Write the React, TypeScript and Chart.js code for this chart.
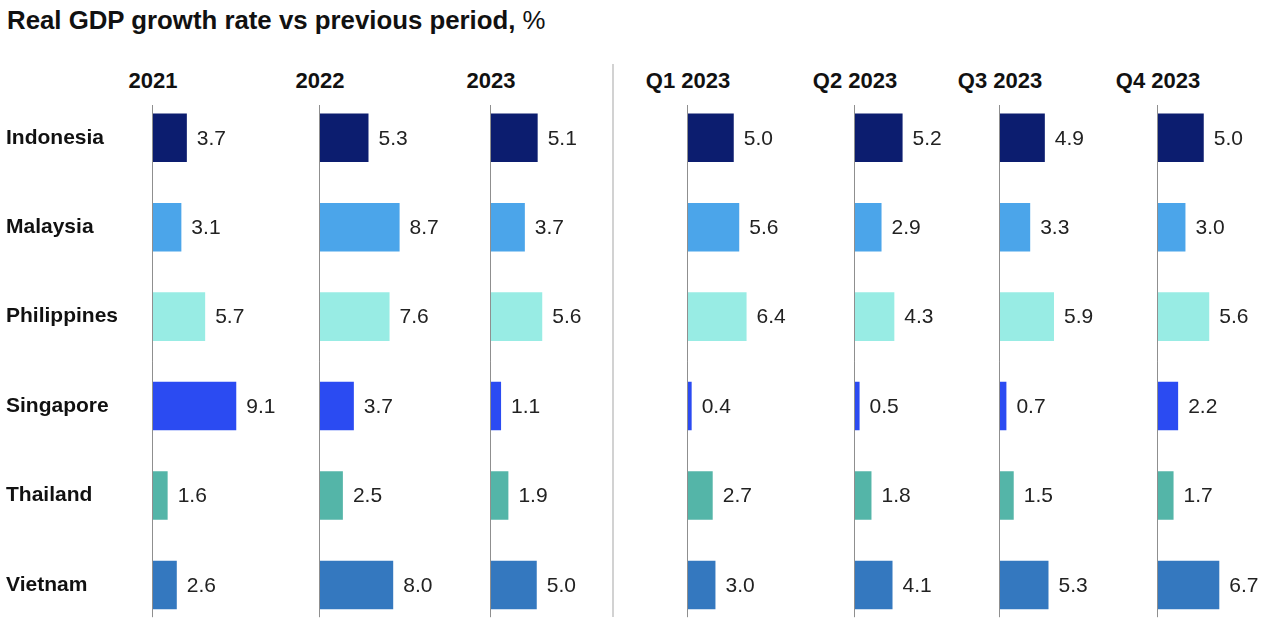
import React, { useEffect, useRef } from "react";
import { Chart, registerables } from "chart.js";

Chart.register(...registerables);

// ---------- data ----------
const countries = ["Indonesia", "Malaysia", "Philippines", "Singapore", "Thailand", "Vietnam"];
const periods = ["2021", "2022", "2023", "Q1 2023", "Q2 2023", "Q3 2023", "Q4 2023"];
const values2021 = [3.7, 3.1, 5.7, 9.1, 1.6, 2.6];
const values2022 = [5.3, 8.7, 7.6, 3.7, 2.5, 8.0];
const values2023 = [5.1, 3.7, 5.6, 1.1, 1.9, 5.0];
const valuesQ1 = [5.0, 5.6, 6.4, 0.4, 2.7, 3.0];
const valuesQ2 = [5.2, 2.9, 4.3, 0.5, 1.8, 4.1];
const valuesQ3 = [4.9, 3.3, 5.9, 0.7, 1.5, 5.3];
const valuesQ4 = [5.0, 3.0, 5.6, 2.2, 1.7, 6.7];
const periodValues = [values2021, values2022, values2023, valuesQ1, valuesQ2, valuesQ3, valuesQ4];
const countryColors = ["#0c1d6f", "#4ba5ea", "#98ece4", "#2b4bf2", "#54b5a8", "#3478bf"];
const titleText = "Real GDP growth rate vs previous period,";
const titleUnit = "%";

// ---------- layout / style ----------
const FONT = '"Liberation Sans", Arial, Helvetica, sans-serif';
const W = 1280;
const H = 638;
const CANVAS_H = 660;
const PX_PER_UNIT = 9.15;
const AREA_W = 120;
const X_MAX = AREA_W / PX_PER_UNIT;
const AXIS_X = [153, 320, 491, 688, 855, 1000, 1158];
const PAD_TOP = 93;
const PAD_BOTTOM = CANVAS_H - 629.7;

const axisLinePlugin = {
  id: "axisLine",
  afterDatasetsDraw(chart: any) {
    const { ctx, chartArea } = chart;
    ctx.save();
    ctx.strokeStyle = "#8f8f8f";
    ctx.lineWidth = 1;
    ctx.beginPath();
    ctx.moveTo(chartArea.left - 0.5, chartArea.top + 12);
    ctx.lineTo(chartArea.left - 0.5, chartArea.bottom - 12.5);
    ctx.stroke();
    ctx.restore();
  },
};

const valueLabelPlugin = {
  id: "valueLabels",
  afterDatasetsDraw(chart: any) {
    const { ctx } = chart;
    const meta = chart.getDatasetMeta(0);
    const data = chart.data.datasets[0].data as number[];
    ctx.save();
    ctx.font = `21px ${FONT}`;
    ctx.fillStyle = "#222222";
    ctx.textAlign = "left";
    ctx.textBaseline = "middle";
    meta.data.forEach((bar: any, i: number) => {
      ctx.fillText(data[i].toFixed(1), bar.x + 10, bar.y + 1);
    });
    ctx.restore();
  },
};

function Panel({ index }: { index: number }) {
  const ref = useRef<HTMLCanvasElement | null>(null);
  const first = index === 0;
  const axisX = AXIS_X[index];
  const left = first ? 0 : axisX - 1;
  const nextX = index < AXIS_X.length - 1 ? AXIS_X[index + 1] : W;
  const width = first ? nextX - left : Math.min(150, nextX - left);
  const padLeft = first ? 6 : 1;
  const yWidth = first ? axisX - padLeft : 0;
  const padRight = width - padLeft - yWidth - AREA_W;

  useEffect(() => {
    if (!ref.current) return;
    const chart = new Chart(ref.current, {
      type: "bar",
      data: {
        labels: countries,
        datasets: [
          {
            data: periodValues[index],
            backgroundColor: countryColors,
            borderWidth: 0,
            categoryPercentage: 1,
            barPercentage: 0.543,
          },
        ],
      },
      options: {
        indexAxis: "y",
        responsive: false,
        animation: false,
        devicePixelRatio: 1,
        layout: {
          autoPadding: false,
          padding: { top: PAD_TOP, bottom: PAD_BOTTOM, left: padLeft, right: padRight },
        },
        plugins: { legend: { display: false }, tooltip: { enabled: false }, title: { display: false } },
        scales: {
          x: { display: false, min: 0, max: X_MAX },
          y: {
            display: first,
            grid: { display: false },
            border: { display: false },
            ticks: {
              crossAlign: "far",
              padding: 0,
              color: "#111111",
              font: { family: FONT, size: 21, weight: "bold" },
            },
            afterFit: (scale: any) => {
              scale.width = yWidth;
            },
          },
        },
      } as any,
      plugins: [axisLinePlugin, valueLabelPlugin],
    });
    return () => chart.destroy();
  }, [index]);

  return (
    <canvas
      ref={ref}
      width={width}
      height={CANVAS_H}
      style={{ position: "absolute", left, top: 0, width, height: CANVAS_H }}
    />
  );
}

export default function App() {
  return (
    <div
      style={{
        position: "absolute",
        left: 0,
        top: 0,
        width: W,
        height: H,
        overflow: "hidden",
        background: "#ffffff",
        fontFamily: FONT,
        color: "#111111",
      }}
    >
      <div
        style={{
          position: "absolute",
          left: 7,
          top: 7,
          fontSize: 25.8,
          lineHeight: "26px",
          fontWeight: 700,
          whiteSpace: "nowrap",
        }}
      >
        {titleText} <span style={{ fontWeight: 400 }}>{titleUnit}</span>
      </div>
      {periods.map((p, i) => (
        <div
          key={p}
          style={{
            position: "absolute",
            left: AXIS_X[i],
            top: 70,
            transform: "translateX(-50%)",
            fontSize: 22,
            lineHeight: "22px",
            fontWeight: 700,
            whiteSpace: "nowrap",
          }}
        >
          {p}
        </div>
      ))}
      <div
        style={{ position: "absolute", left: 612, top: 64, width: 1.5, height: 553, background: "#d2d2d2" }}
      />
      {periods.map((p, i) => (
        <Panel key={p} index={i} />
      ))}
    </div>
  );
}
